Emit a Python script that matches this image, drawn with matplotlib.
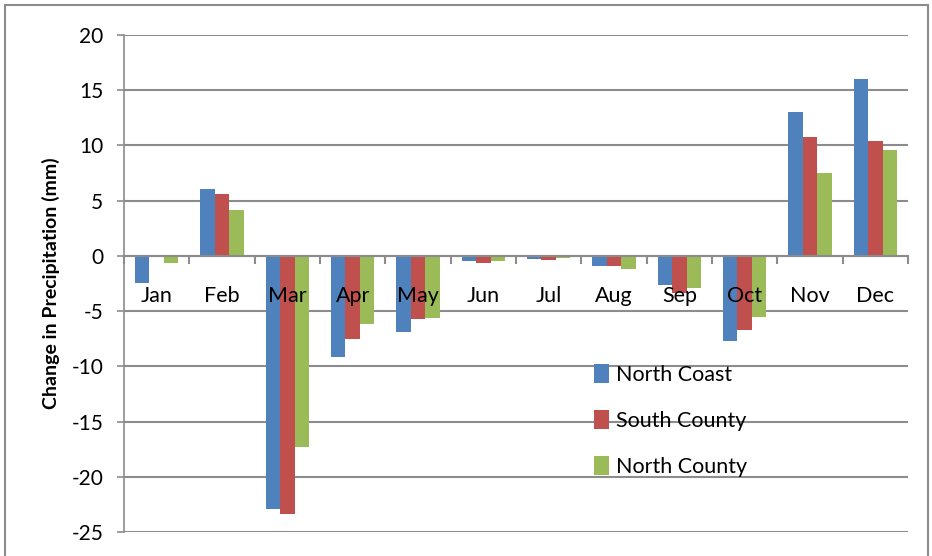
import numpy as np
import matplotlib.pyplot as plt
from matplotlib.patches import Rectangle
from matplotlib.ticker import FixedLocator, NullFormatter

months = ['Jan', 'Feb', 'Mar', 'Apr', 'May', 'Jun',
          'Jul', 'Aug', 'Sep', 'Oct', 'Nov', 'Dec']
north_coast = [-2.5, 6.1, -22.9, -9.2, -6.9, -0.5, -0.3, -0.9, -2.6, -7.7, 13.0, 16.0]
south_county = [-0.1, 5.6, -23.4, -7.5, -5.7, -0.6, -0.4, -0.9, -3.4, -6.7, 10.8, 10.4]
north_county = [-0.6, 4.2, -17.3, -6.2, -5.6, -0.5, -0.2, -1.2, -2.9, -5.5, 7.5, 9.6]
y_ticks = [-25, -20, -15, -10, -5, 0, 5, 10, 15, 20]

series = [('North Coast', north_coast, '#4F81BD'),
          ('South County', south_county, '#C0504D'),
          ('North County', north_county, '#9BBB59')]

plt.rcParams['font.family'] = ['Lato', 'DejaVu Sans']
plt.rcParams['axes.unicode_minus'] = False

fig = plt.figure(figsize=(9.32, 5.56), dpi=100)
ax = fig.add_axes([124 / 932, 1 - 532 / 556, (908 - 124) / 932, (532 - 35) / 556])

x = np.arange(len(months))
bw = 1 / (3 + 1.5)
for i, (name, vals, col) in enumerate(series):
    ax.bar(x + (i - 1) * bw, vals, width=bw, color=col, label=name, zorder=3)

ax.set_xlim(-0.5, len(months) - 0.5)
ax.set_ylim(-25, 20)
ax.set_yticks(y_ticks)
ax.yaxis.grid(True, color='#8C8C8C', linewidth=1.5)
ax.yaxis.set_zorder(0)
ax.tick_params(axis='y', labelsize=15, length=5, color='#8C8C8C', width=1.2, pad=10)

# category axis sits on the zero line, ticks between months, labels over bars
ax.spines['bottom'].set_position(('data', 0))
ax.spines['bottom'].set_color('#8C8C8C')
ax.spines['bottom'].set_linewidth(1.5)
ax.spines['bottom'].set_zorder(4)
ax.spines['left'].set_color('#8C8C8C')
ax.spines['left'].set_linewidth(1.2)
ax.spines['top'].set_visible(False)
ax.spines['right'].set_visible(False)
ax.xaxis.set_zorder(5)
ax.set_xticks(x)
ax.set_xticklabels(months)
ax.tick_params(axis='x', which='major', length=0, labelsize=15.5, pad=22)
ax.xaxis.set_minor_locator(FixedLocator(np.arange(-0.5, len(months), 1)))
ax.xaxis.set_minor_formatter(NullFormatter())
ax.tick_params(axis='x', which='minor', length=6, color='#8C8C8C', width=1.5, direction='out')

ax.set_ylabel('Change in Precipitation (mm)', fontsize=14, fontweight='bold', labelpad=8)

ax.legend(loc='upper left', bbox_to_anchor=(0.575, 0.377), frameon=False,
          fontsize=15.5, handlelength=0.7, handleheight=1.0, handletextpad=0.3,
          labelspacing=1.15)

# chart border
fig.patches.append(Rectangle((5 / 932, -0.05), 923 / 932, 1 - 5 / 556 + 0.05,
                             transform=fig.transFigure, fill=False,
                             edgecolor='#8C8C8C', linewidth=1.5))

fig.savefig('out.png', dpi=100)
